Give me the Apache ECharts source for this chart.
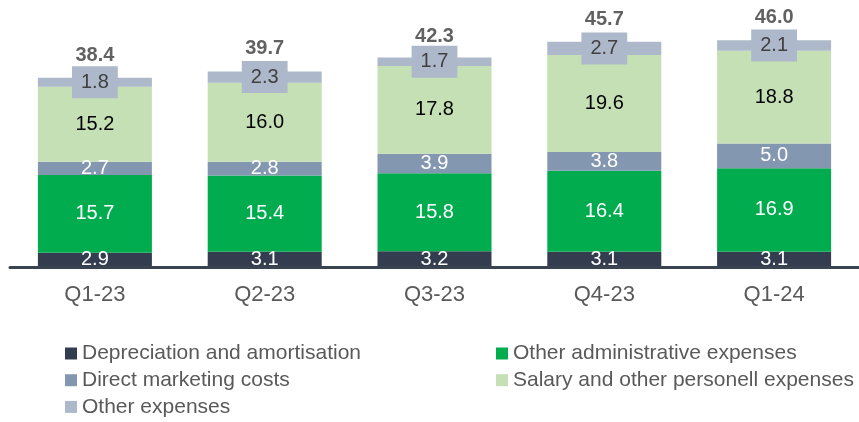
<!DOCTYPE html>
<html>
<head>
<meta charset="utf-8">
<script src="https://cdn.jsdelivr.net/npm/echarts@6/dist/echarts.min.js"></script>
<style>html,body{margin:0;padding:0;background:#fff}#c{width:859px;height:422px}</style>
</head>
<body>
<div id="c"></div>
<script>
const categories = ['Q1-23', 'Q2-23', 'Q3-23', 'Q4-23', 'Q1-24'];
const depreciation = [2.9, 3.1, 3.2, 3.1, 3.1];
const otherAdmin = [15.7, 15.4, 15.8, 16.4, 16.9];
const directMarketing = [2.7, 2.8, 3.9, 3.8, 5.0];
const salary = [15.2, 16.0, 17.8, 19.6, 18.8];
const otherExpenses = [1.8, 2.3, 1.7, 2.7, 2.1];
const totals = [38.4, 39.7, 42.3, 45.7, 46.0];

const FONT = 'Liberation Sans, Arial, sans-serif';
const fmt = p => p.value.toFixed(1);

function seg(name, data, color, labelColor, extraLabel) {
  return {
    name: name, type: 'bar', stack: 'total', data: data, barWidth: 114,
    itemStyle: { color: color },
    label: Object.assign({
      show: true, position: 'inside', formatter: fmt,
      color: labelColor, fontFamily: FONT, fontSize: 20
    }, extraLabel || {})
  };
}

const legendText = { color: '#595959', fontFamily: FONT, fontSize: 21, lineHeight: 22 };

const chart = echarts.init(document.getElementById('c'), null, { renderer: 'canvas' });
chart.setOption({
  animation: false,
  backgroundColor: '#fff',
  grid: { left: 10, right: -6, top: 20, bottom: 155, containLabel: false },
  xAxis: {
    type: 'category', data: categories, z: 5,
    axisLine: { lineStyle: { color: '#3a4350', width: 3 } },
    axisTick: { show: false },
    axisLabel: { color: '#595959', fontFamily: FONT, fontSize: 22, margin: 17 }
  },
  yAxis: { type: 'value', min: 0, max: 50, show: false, splitLine: { show: false } },
  legend: [
    {
      data: ['Depreciation and amortisation', 'Direct marketing costs', 'Other expenses'],
      orient: 'vertical', left: 65, top: 342.5, padding: 0, itemWidth: 12, itemHeight: 12, itemGap: 4.7,
      icon: 'rect', textStyle: legendText
    },
    {
      data: ['Other administrative expenses', 'Salary and other personell expenses'],
      orient: 'vertical', left: 496, top: 342.5, padding: 0, itemWidth: 12, itemHeight: 12, itemGap: 4.7,
      icon: 'rect', textStyle: legendText
    }
  ],
  series: [
    seg('Depreciation and amortisation', depreciation, '#333d4f', '#ffffff'),
    seg('Other administrative expenses', otherAdmin, '#00ac4e', '#ffffff'),
    seg('Direct marketing costs', directMarketing, '#8497b0', '#ffffff'),
    seg('Salary and other personell expenses', salary, '#c5e0b4', '#000000'),
    seg('Other expenses', otherExpenses, '#adb9ca', '#404040', {
      backgroundColor: '#adb9ca', padding: [6, 9, 6, 9], lineHeight: 20
    }),
    {
      name: 'Total', type: 'scatter', data: totals, symbolSize: 0, z: 10,
      label: {
        show: true, position: 'top', distance: 12, formatter: fmt,
        color: '#3a3a3a', fontFamily: FONT, fontSize: 20, fontWeight: 'bold'
      }
    }
  ]
});
</script>
</body>
</html>
